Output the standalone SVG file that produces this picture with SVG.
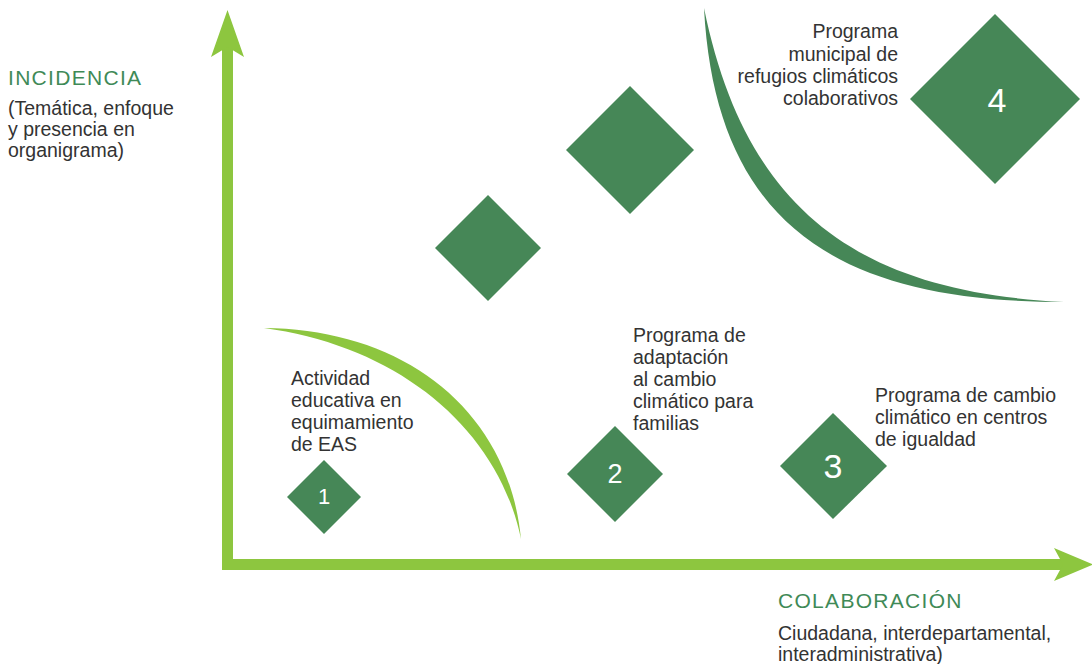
<svg xmlns="http://www.w3.org/2000/svg" width="1092" height="664" viewBox="0 0 1092 664">
<style>
.t{font-family:"Liberation Sans",Arial,sans-serif;font-size:19.5px;fill:#333333}
.h{font-family:"Liberation Sans",Arial,sans-serif;font-size:21px;fill:#3f8a57;letter-spacing:1.3px}
.d{fill:#468757}
.n{font-family:"Liberation Sans",Arial,sans-serif;fill:#ffffff;text-anchor:middle}
.ax{fill:#8dc63f}
</style>
<rect width="1092" height="664" fill="#ffffff"/>
<g id="axes">
<rect class="ax" x="222" y="44" width="11" height="526"/>
<rect class="ax" x="222" y="559" width="842" height="11"/>
<path class="ax" d="M227.5,10 L244,57 L227.5,47 L211,57 Z"/>
<path class="ax" d="M1093,564.5 L1054,548 L1063,564.5 L1054,581 Z"/>
</g>
<g id="arcs">
<path class="ax" d="M264,328 C402,329 508,408 521,539 C498,428 398,346 264,328 Z"/>
<path class="d" d="M704,8 C716,234 850,302 1064,302 C862,292 746,214 704,8 Z"/>
</g>
<g id="labels">
<text class="h" x="8" y="85">INCIDENCIA</text>
<text class="t" x="8" y="115">(Temática, enfoque</text>
<text class="t" x="8" y="136">y presencia en</text>
<text class="t" x="8" y="157">organigrama)</text>
<text class="h" x="778" y="608" letter-spacing="0.3">COLABORACIÓN</text>
<text class="t" x="778" y="640">Ciudadana, interdepartamental,</text>
<text class="t" x="778" y="661">interadministrativa)</text>
</g>
<g id="node-a"><path class="d" d="M488,195 L541,248 L488,301 L435,248 Z"/></g>
<g id="node-b"><path class="d" d="M630,86 L694,150 L630,214 L566,150 Z"/></g>
<g id="node-1">
<path class="d" d="M324,460 L361,497 L324,534 L287,497 Z"/>
<text class="n" x="324" y="504" font-size="22">1</text>
<text class="t" x="291" y="385">Actividad</text>
<text class="t" x="291" y="407">educativa en</text>
<text class="t" x="291" y="429">equimamiento</text>
<text class="t" x="291" y="451">de EAS</text>
</g>
<g id="node-2">
<path class="d" d="M615,426 L663,474 L615,522 L567,474 Z"/>
<text class="n" x="615" y="483" font-size="27">2</text>
<text class="t" x="633" y="342">Programa de</text>
<text class="t" x="633" y="364">adaptación</text>
<text class="t" x="633" y="386">al cambio</text>
<text class="t" x="633" y="408">climático para</text>
<text class="t" x="633" y="430">familias</text>
</g>
<g id="node-3">
<path class="d" d="M833,413 L887,466 L833,519 L780,466 Z"/>
<text class="n" x="833" y="478" font-size="34">3</text>
<text class="t" x="875" y="402">Programa de cambio</text>
<text class="t" x="875" y="424">climático en centros</text>
<text class="t" x="875" y="446">de igualdad</text>
</g>
<g id="node-4">
<path class="d" d="M995,14 L1080,99 L995,184 L910,99 Z"/>
<text class="n" x="997" y="112" font-size="34">4</text>
<g text-anchor="end">
<text class="t" x="898" y="38">Programa</text>
<text class="t" x="898" y="61">municipal de</text>
<text class="t" x="898" y="83">refugios climáticos</text>
<text class="t" x="898" y="105">colaborativos</text>
</g>
</g>
</svg>
